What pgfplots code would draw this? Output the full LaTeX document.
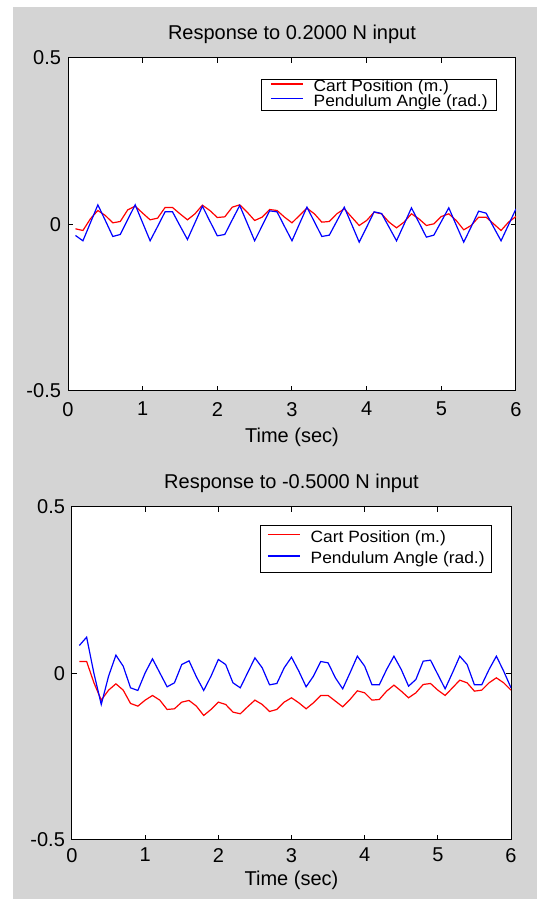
\documentclass[border=0pt]{standalone}
\usepackage{pgfplots}
\pgfplotsset{compat=1.18}
\usepackage{pgfplotstable}
\usepackage{fontspec}
\setmainfont{Liberation Sans}
\newfontfamily\legendfont{Liberation Sans}[FakeStretch=1.06]
\definecolor{figgray}{RGB}{212,212,212}

% Response to a 0.2 N step: cart position (m) and pendulum angle (rad)
\pgfplotstableread{
t cart pend
0.1 -0.013 -0.033
0.2 -0.018 -0.049
0.3 0.017 0.005
0.4 0.042 0.059
0.5 0.027 0.012
0.6 0.005 -0.036
0.7 0.009 -0.030
0.8 0.044 0.015
0.9 0.055 0.059
1.0 0.034 0.005
1.1 0.014 -0.049
1.2 0.019 -0.006
1.3 0.051 0.038
1.4 0.051 0.038
1.5 0.032 -0.004
1.6 0.014 -0.045
1.7 0.032 0.005
1.8 0.058 0.055
1.9 0.042 0.010
2.0 0.021 -0.034
2.1 0.023 -0.030
2.2 0.052 0.014
2.3 0.059 0.057
2.4 0.037 0.004
2.5 0.012 -0.049
2.6 0.022 -0.004
2.7 0.045 0.041
2.8 0.042 0.038
2.9 0.022 -0.006
3.0 0.005 -0.049
3.1 0.027 0.002
3.2 0.049 0.052
3.3 0.032 0.008
3.4 0.007 -0.036
3.5 0.009 -0.032
3.6 0.032 0.010
3.7 0.047 0.052
3.8 0.022 0.000
3.9 -0.003 -0.053
4.0 0.012 -0.008
4.1 0.037 0.038
4.2 0.032 0.033
4.3 0.007 -0.008
4.4 -0.010 -0.049
4.5 0.007 0.000
4.6 0.032 0.050
4.7 0.017 0.006
4.8 -0.003 -0.038
4.9 0.002 -0.032
5.0 0.024 0.009
5.1 0.032 0.050
5.2 0.012 -0.002
5.3 -0.016 -0.053
5.4 -0.003 -0.007
5.5 0.022 0.040
5.6 0.022 0.034
5.7 0.002 -0.008
5.8 -0.018 -0.049
5.9 0.007 -0.001
6.0 0.024 0.047
}\stepA

% Response to a -0.5 N step
\pgfplotstableread{
t cart pend
0.1 0.036 0.084
0.2 0.036 0.109
0.3 -0.028 0.000
0.4 -0.080 -0.093
0.5 -0.050 -0.008
0.6 -0.031 0.055
0.7 -0.050 0.022
0.8 -0.090 -0.043
0.9 -0.098 -0.051
1.0 -0.080 0.002
1.1 -0.066 0.044
1.2 -0.080 0.002
1.3 -0.108 -0.040
1.4 -0.106 -0.028
1.5 -0.086 0.027
1.6 -0.081 0.038
1.7 -0.098 -0.010
1.8 -0.126 -0.051
1.9 -0.108 -0.008
2.0 -0.086 0.042
2.1 -0.093 0.027
2.2 -0.116 -0.028
2.3 -0.121 -0.043
2.4 -0.100 0.002
2.5 -0.080 0.047
2.6 -0.093 0.017
2.7 -0.114 -0.034
2.8 -0.108 -0.030
2.9 -0.086 0.017
3.0 -0.073 0.049
3.1 -0.088 0.007
3.2 -0.106 -0.040
3.3 -0.088 -0.008
3.4 -0.066 0.036
3.5 -0.066 0.032
3.6 -0.083 -0.013
3.7 -0.100 -0.046
3.8 -0.078 0.002
3.9 -0.052 0.052
4.0 -0.058 0.022
4.1 -0.080 -0.034
4.2 -0.078 -0.034
4.3 -0.053 0.012
4.4 -0.035 0.052
4.5 -0.053 0.012
4.6 -0.073 -0.038
4.7 -0.058 -0.018
4.8 -0.033 0.037
4.9 -0.030 0.040
5.0 -0.050 -0.003
5.1 -0.066 -0.046
5.2 -0.043 0.002
5.3 -0.020 0.052
5.4 -0.028 0.027
5.5 -0.053 -0.034
5.6 -0.050 -0.034
5.7 -0.028 0.012
5.8 -0.013 0.052
5.9 -0.028 0.007
6.0 -0.050 -0.043
}\stepB

\pgfplotsset{
  every axis title shift=0pt,
  matlabaxis/.style={
    scale only axis,
    height=166.5pt,
    xmin=0, xmax=6, ymin=-0.5, ymax=0.5,
    xtick={0,1,2,3,4,5,6},
    xticklabels={0,1,2,3,4,5,6},
    ytick={-0.5,0,0.5},
    yticklabels={-0.5,0,0.5},
    tick align=inside,
    major tick length=2.7pt,
    axis background/.style={fill=white},
    axis line style={line width=0.5pt, black},
    every tick/.style={black, line width=0.5pt},
    tick label style={font=\fontsize{10}{12}\selectfont},
    title style={font=\fontsize{10}{12}\selectfont, at={(axis description cs:0.5,1)}, anchor=base, yshift=9.25pt},
    xlabel style={font=\fontsize{10}{12}\selectfont, at={(axis description cs:0.5,0)}, anchor=base},
    legend image code/.code={\draw[#1, line width=0.75pt] (0pt,1.8pt) -- (16pt,1.8pt);},
    legend cell align=left,
    every axis plot/.append style={line width=0.6pt},
  },
}

\begin{document}
\begin{tikzpicture}
  % figure window background
  \fill[white] (0pt,0pt) rectangle (268.5pt,449.5pt);
  \fill[figgray] (6.5pt,0pt) rectangle (268.5pt,446pt);

  \begin{axis}[matlabaxis,
      at={(34pt,254pt)}, anchor=south west, width=224pt,
      title={Response to 0.2000 N input},
      xlabel={Time (sec)},
      xlabel style={yshift=-26pt},
      xticklabel style={yshift=-2pt},
      legend style={at={(axis description cs:0.9576,0.937)}, anchor=north east,
        font=\legendfont\fontsize{8.2}{9.5}\selectfont,
        inner xsep=4.5pt, inner ysep=0.3pt, column sep=5pt, row sep=0pt,
        nodes={inner ysep=0pt, inner xsep=0pt}},
    ]
    \addplot[red] table[x=t, y=cart] {\stepA};
    \addlegendentry{Cart Position (m.)}
    \addplot[blue] table[x=t, y=pend] {\stepA};
    \addlegendentry{Pendulum Angle (rad.)}
  \end{axis}

  \begin{axis}[matlabaxis,
      at={(36pt,29.5pt)}, anchor=south west, width=219.5pt,
      title={Response to -0.5000 N input},
      xlabel={Time (sec)},
      xlabel style={yshift=-23pt},
      xticklabel style={yshift=-0.5pt},
      legend style={at={(axis description cs:0.9567,0.946)}, anchor=north east,
        font=\legendfont\fontsize{8.2}{9.5}\selectfont,
        inner xsep=3.5pt, inner ysep=2.75pt, column sep=5pt, row sep=3.1pt,
        nodes={inner ysep=0pt, inner xsep=0pt}},
    ]
    \addplot[red] table[x=t, y=cart] {\stepB};
    \addlegendentry{Cart Position (m.)}
    \addplot[blue] table[x=t, y=pend] {\stepB};
    \addlegendentry{Pendulum Angle (rad.)}
  \end{axis}
\end{tikzpicture}
\end{document}
